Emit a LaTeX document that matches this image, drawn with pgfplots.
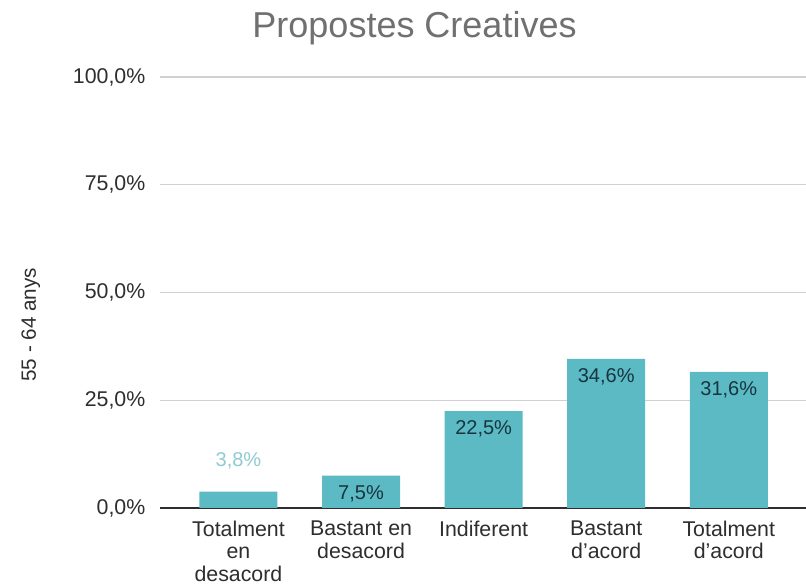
\documentclass[border=0pt]{standalone}
\usepackage{pgfplots}
\pgfplotsset{compat=1.18}
\usepackage{fontspec}
\setmainfont{Liberation Sans}
\definecolor{barc}{HTML}{5BBAC3}
\definecolor{darklab}{HTML}{173540}
\definecolor{lightlab}{HTML}{8FCBD2}
\definecolor{titlec}{HTML}{707070}
\definecolor{gridc}{HTML}{D0D0D0}
\definecolor{textc}{HTML}{2E2E2E}
\begin{document}
\begin{tikzpicture}
\fill[white] (0pt,0pt) rectangle (604.5pt,438pt);
\useasboundingbox (0pt,0pt) rectangle (604.5pt,438pt);
\begin{axis}[
  at={(120pt,57pt)}, anchor=south west,
  width=484.5pt, height=323.25pt, scale only axis,
  xmin=-0.64, xmax=4.63, ymin=0, ymax=100,
  axis x line*=bottom, axis y line*=left,
  x axis line style={textc, line width=1pt, -},
  y axis line style={draw=none},
  xtick={0,1,2,3,4},
  xticklabels={{Totalment\\en\\desacord},{Bastant en\\desacord},{Indiferent},{Bastant\\d'acord},{Totalment\\d'acord}},
  xticklabel style={align=center, font=\fontsize{16}{17}\selectfont, text=textc, anchor=north, yshift=-6pt},
  ytick={0,25,50,75,100},
  yticklabel={\pgfmathprintnumber[fixed,fixed zerofill,precision=1,use comma]{\tick}\%},
  yticklabel style={font=\fontsize{16}{18}\selectfont, text=textc, xshift=-7.5pt},
  /pgf/number format/assume math mode=true,
  ymajorgrids, grid style={gridc, line width=0.8pt},
  major tick length=0pt,
  ylabel={55 - 64 anys},
  ylabel style={at={(axis description cs:-0.2,0.425)}, anchor=center, font=\fontsize{15.5}{17}\selectfont, text=textc},
  title={Propostes Creatives},
  title style={at={(axis description cs:0.394,1)}, anchor=base, yshift=23.5pt, font=\fontsize{27}{30}\selectfont, text=titlec},
  clip=false,
]
\addplot[ybar, bar width=58.5pt, fill=barc, draw=none] coordinates {(0,3.8) (1,7.5) (2,22.5) (3,34.6) (4,31.6)};
\addplot[draw=none, mark=none, point meta=explicit symbolic, nodes near coords,
  every node near coord/.append style={anchor=north, text=darklab, font=\fontsize{15}{17}\selectfont, yshift=-3.75pt}]
  coordinates {(1,7.5) [7,5\%] (2,22.5) [22,5\%] (3,34.6) [34,6\%] (4,31.6) [31,6\%]};
\addplot[draw=none, mark=none, point meta=explicit symbolic, nodes near coords,
  every node near coord/.append style={anchor=south, text=lightlab, font=\fontsize{15}{17}\selectfont, yshift=13.75pt}]
  coordinates {(0,3.8) [3,8\%]};
\end{axis}
\end{tikzpicture}
\end{document}
